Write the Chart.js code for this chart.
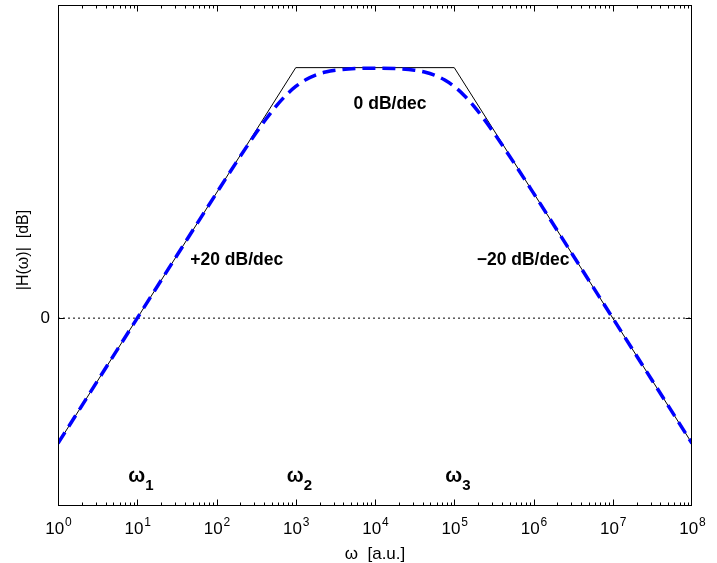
<!DOCTYPE html>
<html lang="en">
  <head>
    <meta charset="UTF-8" />
    <script src="https://cdn.jsdelivr.net/npm/chart.js@4.4.1/dist/chart.umd.min.js"></script>
    <title>Bode plot</title>
    <style>
      body { margin: 0; background: #fff; }
      canvas { display: block; }
    </style>
  </head>
  <body>
    <canvas id="bode" width="717" height="563"></canvas>
    <script>
      // asymptotic (straight-line) approximation
      const asymW = [1, 1e3, 1e5, 1e8];
      const asymDb = [-20, 40, 40, -20];

      const curveW = [1, 3.162, 10, 31.62, 100, 177.8, 316.2, 421.7, 562.3, 749.9, 1000, 1334, 1778, 2371, 3162, 5623,
        10000, 17783, 31623, 42170, 56234, 74989, 100000, 133352, 177828, 237137, 316228, 562341, 1e6, 3.162e6, 1e7, 3.162e7, 1e8];
      const curveDb = [-20, -10, 0, 10, 19.96, 24.87, 29.59, 31.79, 33.81, 35.56, 36.99, 38.06, 38.81, 39.29, 39.58, 39.85,
        39.91, 39.85, 39.58, 39.29, 38.81, 38.06, 36.99, 35.56, 33.81, 31.79, 29.59, 24.87, 19.96, 10, 0, -10, -20];

      const zeroLine = [1, 1e8];

      // tick labels on the log axis: 10^exp
      const xTickExp = [0, 1, 2, 3, 4, 5, 6, 7, 8];
      const yTicks = [0];

      // text labels placed in data coordinates
      const slopeLabels = [
        { text: "+20 dB/dec", x: 180, y: 9.3 },
        { text: "0 dB/dec", x: 15500, y: 34.2 },
        { text: "\u221220 dB/dec", x: 740000, y: 9.3 },
      ];
      const cornerLabels = [
        { sub: "1", x: 10, y: -26.2 },
        { sub: "2", x: 1e3, y: -26.2 },
        { sub: "3", x: 1e5, y: -26.2 },
      ];

      const FONT = "'Liberation Sans', Arial, Helvetica, sans-serif";

      const decor = {
        id: "decor",
        afterDraw(chart) {
          const ctx = chart.ctx;
          const xs = chart.scales.x;
          const ys = chart.scales.y;
          const a = chart.chartArea;
          const L = Math.round(a.left) + 0.5, R = Math.round(a.right) - 0.5;
          const T = Math.round(a.top) + 0.5, B = Math.round(a.bottom) - 0.5;
          ctx.save();
          ctx.strokeStyle = "#000";
          ctx.lineWidth = 1;
          ctx.strokeRect(L, T, R - L, B - T);

          // inward ticks, top and bottom
          ctx.beginPath();
          for (let e = 0; e < 8; e++) {
            for (let m = 1; m <= 9; m++) {
              const px = Math.round(xs.getPixelForValue(m * Math.pow(10, e))) + 0.5;
              const len = m === 1 ? 6 : 3;
              ctx.moveTo(px, B); ctx.lineTo(px, B - len);
              ctx.moveTo(px, T); ctx.lineTo(px, T + len);
            }
          }
          const pEnd = Math.round(xs.getPixelForValue(1e8)) - 0.5;
          ctx.moveTo(pEnd, B); ctx.lineTo(pEnd, B - 6);
          ctx.moveTo(pEnd, T); ctx.lineTo(pEnd, T + 6);
          yTicks.forEach((v) => {
            const py = Math.round(ys.getPixelForValue(v)) + 0.5;
            ctx.moveTo(L, py); ctx.lineTo(L + 6, py);
            ctx.moveTo(R, py); ctx.lineTo(R - 6, py);
          });
          ctx.stroke();

          ctx.fillStyle = "#000";
          // x tick labels with superscript exponent
          xTickExp.forEach((e) => {
            const px = xs.getPixelForValue(Math.pow(10, e));
            ctx.font = "17px " + FONT;
            const wBase = ctx.measureText("10").width;
            ctx.font = "12px " + FONT;
            const wExp = ctx.measureText(String(e)).width;
            const x0 = px - (wBase + wExp) / 2;
            ctx.textAlign = "left";
            ctx.textBaseline = "alphabetic";
            ctx.font = "17px " + FONT;
            ctx.fillText("10", x0, 534);
            ctx.font = "12px " + FONT;
            ctx.fillText(String(e), x0 + wBase + 1, 526);
          });

          // y tick labels
          ctx.font = "17px " + FONT;
          ctx.textAlign = "right";
          ctx.textBaseline = "middle";
          yTicks.forEach((v) => ctx.fillText(String(v), 50, ys.getPixelForValue(v)));

          // axis titles
          ctx.font = "17px " + FONT;
          ctx.textAlign = "center";
          ctx.textBaseline = "alphabetic";
          ctx.fillText("\u03c9  [a.u.]", (a.left + a.right) / 2, 559);
          ctx.font = "16px " + FONT;
          ctx.save();
          ctx.translate(28, 250);
          ctx.rotate(-Math.PI / 2);
          ctx.fillText("|H(\u03c9)|  [dB]", 0, 0);
          ctx.restore();

          // slope annotations
          ctx.font = "bold 17.5px " + FONT;
          ctx.textAlign = "center";
          ctx.textBaseline = "middle";
          slopeLabels.forEach((s) => {
            ctx.fillText(s.text, xs.getPixelForValue(s.x), ys.getPixelForValue(s.y));
          });

          // corner frequencies
          cornerLabels.forEach((c) => {
            const px = xs.getPixelForValue(c.x);
            const py = ys.getPixelForValue(c.y);
            ctx.textAlign = "left";
            ctx.textBaseline = "alphabetic";
            ctx.font = "bold 20px " + FONT;
            const w = ctx.measureText("\u03c9").width;
            ctx.fillText("\u03c9", px - 9, py);
            ctx.font = "bold 15px " + FONT;
            ctx.fillText(c.sub, px - 9 + w, py + 8);
          });
          ctx.restore();
        },
      };

      const ctx = document.getElementById("bode").getContext("2d");
      const bode = new Chart(ctx, {
        type: "line",
        data: {
          datasets: [
            {
              label: "|H|",
              data: curveW.map((w, i) => ({ x: w, y: curveDb[i] })),
              borderColor: "#0000ff",
              borderWidth: 3.5,
              borderDash: [13, 7],
              pointRadius: 0,
              cubicInterpolationMode: "monotone",
              order: 0,
            },
            {
              label: "asymptote",
              data: asymW.map((w, i) => ({ x: w, y: asymDb[i] })),
              borderColor: "#000",
              borderWidth: 1,
              pointRadius: 0,
              tension: 0,
              order: 1,
            },
            {
              label: "zero",
              data: zeroLine.map((w) => ({ x: w, y: 0 })),
              borderColor: "#000",
              borderWidth: 1,
              borderDash: [2, 3],
              pointRadius: 0,
              order: 2,
            },
          ],
        },
        options: {
          responsive: false,
          animation: false,
          events: [],
          layout: { padding: { top: 5, right: 25, left: 0, bottom: 0 } },
          plugins: { legend: { display: false }, tooltip: { enabled: false } },
          scales: {
            x: {
              type: "logarithmic",
              min: 1,
              max: 1e8,
              grid: { display: false },
              border: { display: false },
              ticks: { display: false },
              afterFit: (s) => { s.height = 57; },
            },
            y: {
              type: "linear",
              min: -30,
              max: 50,
              grid: { display: false },
              border: { display: false },
              ticks: { display: false },
              afterFit: (s) => { s.width = 58; },
            },
          },
        },
        plugins: [decor],
      });
    </script>
  </body>
</html>
